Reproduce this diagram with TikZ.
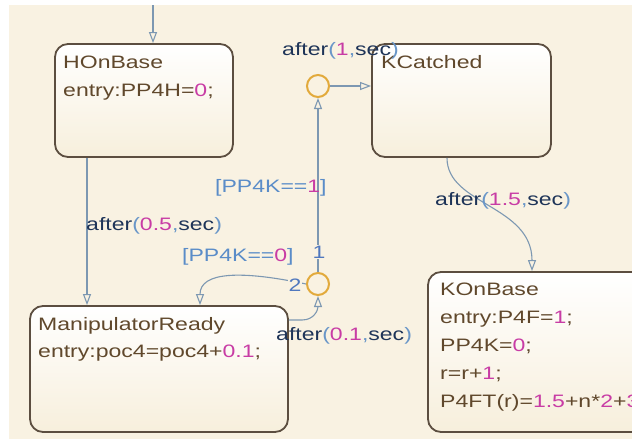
\documentclass[tikz,border=0pt]{standalone}
\usepackage{fontspec}
\usetikzlibrary{arrows.meta}
\newfontfamily\chartfont[FakeStretch=1.28]{Liberation Sans}

\definecolor{bg}{RGB}{249,242,226}
\definecolor{statetext}{RGB}{96,72,44}
\definecolor{numc}{RGB}{200,60,165}
\definecolor{kwc}{RGB}{30,52,88}
\definecolor{punc}{RGB}{105,150,200}
\definecolor{condc}{RGB}{90,140,200}
\definecolor{ordc}{RGB}{80,120,190}
\definecolor{trc}{RGB}{125,152,178}
\definecolor{junc}{RGB}{226,170,60}
\definecolor{stateedge}{RGB}{92,78,64}
\definecolor{statebot}{RGB}{247,239,220}

% syntax colouring of chart text
\newcommand\stNum[1]{\textcolor{numc}{#1}}
\newcommand\stKw[1]{\textcolor{kwc}{#1}}
\newcommand\stPunc[1]{\textcolor{punc}{#1}}
\newcommand\stCond[1]{\textcolor{condc}{#1}}
\newcommand\stAfter[1]{\stKw{after}\stPunc{(}\stNum{#1}\stPunc{,}\stKw{sec}\stPunc{)}}

\begin{document}
\begin{tikzpicture}[x=1pt,y=-1pt,
  every node/.style={font=\chartfont\fontsize{18}{27}\selectfont, inner sep=0pt},
  statebox/.style={draw=stateedge, line width=1.8pt, rounded corners=13pt,
    top color=white, bottom color=statebot},
  junction/.style={circle, draw=junc, line width=2pt, fill=bg, minimum size=22pt},
  tr/.style={draw=trc, line width=1.1pt, -{Triangle[open, length=11pt, width=8pt]}},
  txt/.style={anchor=base west, text=statetext},
  lab/.style={anchor=base west},
  ord/.style={text=ordc, fill=bg, inner sep=1pt}]

\clip (0,0) rectangle (632,439);
\fill[bg] (9,5) rectangle (632,439);

% states
\node[statebox, minimum width=178pt, minimum height=113pt] (hon) at (144,100.5) {};
\node[statebox, minimum width=179pt, minimum height=113pt] (kc) at (461.5,100.5) {};
\node[statebox, minimum width=258pt, minimum height=126pt] (mr) at (159,369) {};
\node[statebox, minimum width=252pt, minimum height=160pt] (kob) at (554,352) {};

% junctions
\node[junction] (j1) at (318,86) {};
\node[junction] (j2) at (318,284) {};

% helper coordinates
\coordinate (init) at (153,5);
\coordinate (x87) at (87,0);
\coordinate (x200) at (200,0);
\coordinate (y320) at (0,320);
\coordinate (x447) at (447,0);
\coordinate (x532) at (532,0);

% transitions
\draw[tr] (init) -- (hon.north -| init);
\draw[tr] (hon.south -| x87) -- (mr.north -| x87);
\draw[tr] (mr.east |- y320) -- (302,320) .. controls (314,320) and (318,310) .. (j2.south);
\draw[tr] (j2.north) -- (j1.south);
\draw[tr] (j2.west) .. controls (240,270) and (200,272) .. (mr.north -| x200);
\draw[tr] (j1.east) -- (kc.west |- j1);
\draw[tr] (kc.south -| x447) .. controls (447,205) and (532,205) .. (kob.north -| x532);

% state texts
\node[txt] (honName) at (63,68) {HOnBase};
\node[txt] (honEntry) at (63,96) {entry:PP4H=\stNum{0};};
\node[txt] (kcName) at (381,68) {KCatched};
\node[txt] (mrName) at (38,330) {ManipulatorReady};
\node[txt] (mrEntry) at (38,357) {entry:poc4=poc4+\stNum{0.1};};
\node[txt] (kobName) at (440,295) {KOnBase};
\node[txt] (kobL1) at (440,323) {entry:P4F=\stNum{1};};
\node[txt] (kobL2) at (440,351) {PP4K=\stNum{0};};
\node[txt] (kobL3) at (440,379) {r=r+\stNum{1};};
\node[txt] (kobL4) at (440,407) {P4FT(r)=\stNum{1.5}+n*\stNum{2}+\stNum{3}};

% transition labels
\node[lab] (lab05) at (86,230) {\stAfter{0.5}};
\node[lab] (lab1) at (282,55) {\stAfter{1}};
\node[lab] (lab15) at (435,205) {\stAfter{1.5}};
\node[lab] (lab01) at (276,340) {\stAfter{0.1}};
\node[lab] (cond1) at (215,192) {\stCond{[PP4K==}\stNum{1}\stCond{]}};
\node[lab] (cond0) at (182,261) {\stCond{[PP4K==}\stNum{0}\stCond{]}};
\node[ord] (ord1) at (319,252) {1};
\node[ord] (ord2) at (295,285) {2};
\end{tikzpicture}
\end{document}
